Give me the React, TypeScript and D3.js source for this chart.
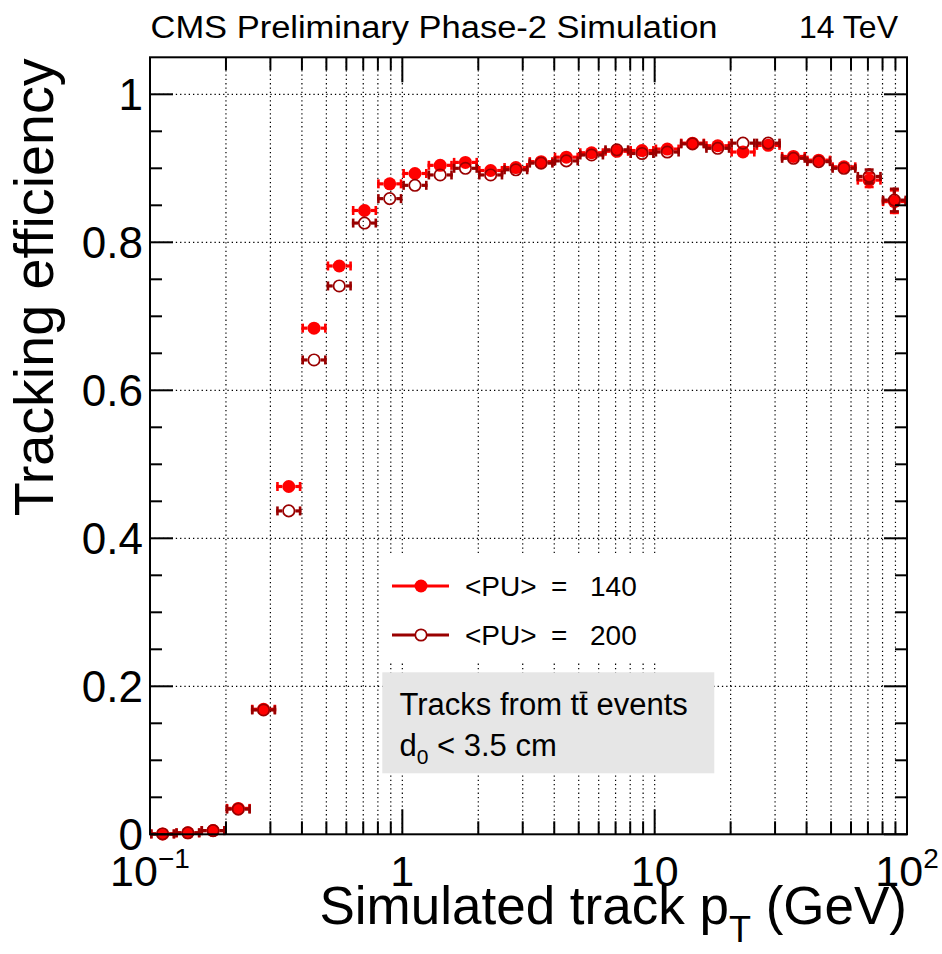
import React, { useLayoutEffect, useRef, useState } from 'react';
import * as d3 from 'd3';

// pT bin edges (GeV), 10 bins per decade
const binEdges = [
  0.1, 0.1259, 0.1585, 0.1995, 0.2512, 0.3162, 0.3981, 0.5012, 0.631, 0.7943,
  1.0, 1.259, 1.585, 1.995, 2.512, 3.162, 3.981, 5.012, 6.31, 7.943,
  10, 12.59, 15.85, 19.95, 25.12, 31.62, 39.81, 50.12, 63.1, 79.43, 100,
];

const effPU140 = [
  0.0005, 0.002, 0.005, 0.035, 0.169, 0.47, 0.684, 0.768, 0.843, 0.879,
  0.893, 0.904, 0.908, 0.897, 0.901, 0.909, 0.915, 0.921, 0.923, 0.924,
  0.926, 0.934, 0.9305, 0.922, 0.931, 0.916, 0.911, 0.902, 0.884, 0.855,
];
const errPU140 = [
  0.001, 0.001, 0.001, 0.002, 0.003, 0.003, 0.003, 0.003, 0.003, 0.003,
  0.003, 0.003, 0.003, 0.003, 0.003, 0.003, 0.003, 0.003, 0.003, 0.003,
  0.004, 0.004, 0.004, 0.005, 0.005, 0.006, 0.006, 0.007, 0.011, 0.017,
];

const effPU200 = [
  0.0005, 0.002, 0.005, 0.034, 0.168, 0.437, 0.641, 0.741, 0.826, 0.859,
  0.877, 0.891, 0.9, 0.891, 0.898, 0.907, 0.91, 0.918, 0.925, 0.92,
  0.922, 0.933, 0.927, 0.934, 0.934, 0.9135, 0.909, 0.9, 0.889, 0.857,
];
const errPU200 = [
  0.001, 0.001, 0.001, 0.002, 0.003, 0.003, 0.003, 0.003, 0.003, 0.003,
  0.003, 0.003, 0.003, 0.003, 0.003, 0.003, 0.003, 0.003, 0.003, 0.003,
  0.004, 0.004, 0.004, 0.005, 0.005, 0.006, 0.006, 0.007, 0.011, 0.017,
];

const xMajorTicks = [0.1, 1, 10, 100];
const xMinorTicks = [
  0.2, 0.3, 0.4, 0.5, 0.6, 0.7, 0.8, 0.9,
  2, 3, 4, 5, 6, 7, 8, 9,
  20, 30, 40, 50, 60, 70, 80, 90,
];
const yMajorTicks = [0, 0.2, 0.4, 0.6, 0.8, 1.0];
const yMajorLabels = ['0', '0.2', '0.4', '0.6', '0.8', '1'];
const yMinorTicks = [0.05, 0.1, 0.15, 0.25, 0.3, 0.35, 0.45, 0.5, 0.55, 0.65, 0.7, 0.75, 0.85, 0.9, 0.95];

const legendLabels = ['140', '200'];

const series = [
  { eff: effPU140, err: errPU140, color: '#ff0000', filled: true },
  { eff: effPU200, err: errPU200, color: '#990000', filled: false },
];

const W = 942;
const H = 954;
const L = 150, R = 907, T = 57.3, B = 834.3;
const FONT = '"Liberation Sans", Arial, Helvetica, sans-serif';

export default function App() {
  const x = d3.scaleLog().domain([0.1, 100]).range([L, R]);
  const y = d3.scaleLinear().domain([0, 1.05]).range([B, T]);
  const r = 6.5;
  const cap = 4.5;

  const ttRef = useRef<SVGTextElement | null>(null);
  const [bar, setBar] = useState<{ x: number; w: number } | null>(null);
  useLayoutEffect(() => {
    const el = ttRef.current;
    if (el) {
      try {
        const ext = el.getExtentOfChar(13);
        setBar({ x: ext.x, w: ext.width });
      } catch (e) {
        /* ignore */
      }
    }
  }, []);

  const renderSeries = (s: typeof series[number], si: number) => {
    const parts: React.ReactNode[] = [];
    s.eff.forEach((v, i) => {
      const lo = binEdges[i];
      const hi = binEdges[i + 1];
      const cx = x(Math.sqrt(lo * hi));
      const cy = y(v);
      const xl = x(lo);
      const xh = x(hi);
      const key = `${si}-${i}`;
      const yUp = y(v + s.err[i]);
      const yDn = y(v - s.err[i]);
      parts.push(
        <g key={key}>
          <line x1={xl} x2={cx - r} y1={cy} y2={cy} stroke={s.color} strokeWidth={3.2} />
          <line x1={cx + r} x2={xh} y1={cy} y2={cy} stroke={s.color} strokeWidth={3.2} />
          <line x1={xl + 1.3} x2={xl + 1.3} y1={cy - cap} y2={cy + cap} stroke={s.color} strokeWidth={2.6} />
          <line x1={xh - 1.3} x2={xh - 1.3} y1={cy - cap} y2={cy + cap} stroke={s.color} strokeWidth={2.6} />
          {yDn - cy > r && (
            <>
              <line x1={cx} x2={cx} y1={cy - r} y2={yUp} stroke={s.color} strokeWidth={3.2} />
              <line x1={cx} x2={cx} y1={cy + r} y2={yDn} stroke={s.color} strokeWidth={3.2} />
              <line x1={cx - cap} x2={cx + cap} y1={yUp + 1.3} y2={yUp + 1.3} stroke={s.color} strokeWidth={2.6} />
              <line x1={cx - cap} x2={cx + cap} y1={yDn - 1.3} y2={yDn - 1.3} stroke={s.color} strokeWidth={2.6} />
            </>
          )}
          {s.filled ? (
            <circle cx={cx} cy={cy} r={r} fill={s.color} />
          ) : (
            <circle cx={cx} cy={cy} r={r - 0.8} fill="none" stroke={s.color} strokeWidth={1.7} />
          )}
        </g>
      );
    });
    return parts;
  };

  const gridStyle = { stroke: '#000', strokeWidth: 1.2, strokeDasharray: '1.3 3' };

  return (
    <svg width={W} height={H} style={{ position: 'absolute', left: 0, top: 0, background: '#fff' }} fontFamily={FONT}>
      <rect x={0} y={0} width={W} height={H} fill="#fff" />
      {/* grid */}
      <g>
        {[...xMinorTicks, 1, 10].map((t, i) => (
          <line key={`gx${i}`} x1={x(t)} x2={x(t)} y1={T} y2={B} {...gridStyle} />
        ))}
        {yMajorTicks.filter((t) => t > 0).map((t, i) => (
          <line key={`gy${i}`} x1={L} x2={R} y1={y(t)} y2={y(t)} {...gridStyle} />
        ))}
      </g>

      {/* legend background */}
      <rect x={381} y={556} width={340} height={106} fill="#fff" />

      {/* text box */}
      <rect x={382.3} y={672.3} width={332} height={101} fill="#e6e6e6" />
      <text ref={ttRef} x={399.5} y={715} fontSize={31} fill="#000">
        {'Tracks from tt events'}
      </text>
      {bar && (
        <line x1={bar.x + 0.5} x2={bar.x + bar.w - 0.5} y1={692.5} y2={692.5} stroke="#000" strokeWidth={1.6} />
      )}
      <text x={399.5} y={756} fontSize={31} fill="#000">
        d<tspan fontSize={21} dy={8}>0</tspan>
        <tspan dy={-8}>{' < 3.5 cm'}</tspan>
      </text>

      {/* data */}
      <g>{series.map((s, si) => renderSeries(s, si))}</g>

      {/* legend */}
      {series.map((s, i) => {
        const ly = 586 + i * 49;
        return (
          <g key={`leg${i}`}>
            <line x1={392} x2={449} y1={ly} y2={ly} stroke={s.color} strokeWidth={3.2} />
            {s.filled ? (
              <circle cx={421} cy={ly} r={r} fill={s.color} />
            ) : (
              <circle cx={421} cy={ly} r={r - 0.8} fill="#fff" stroke={s.color} strokeWidth={1.7} />
            )}
            <text y={ly + 10} fontSize={28} fill="#000">
              <tspan x={465}>{'<PU>'}</tspan>
              <tspan x={551}>=</tspan>
              <tspan x={590}>{legendLabels[i]}</tspan>
            </text>
          </g>
        );
      })}

      {/* frame */}
      <rect x={L} y={T} width={R - L} height={B - T} fill="none" stroke="#000" strokeWidth={2} />

      {/* x ticks */}
      {xMajorTicks.map((t, i) => (
        <g key={`xM${i}`}>
          <line x1={x(t)} x2={x(t)} y1={B} y2={B - 25} stroke="#000" strokeWidth={2} />
          <line x1={x(t)} x2={x(t)} y1={T} y2={T + 25} stroke="#000" strokeWidth={2} />
        </g>
      ))}
      {xMinorTicks.map((t, i) => (
        <g key={`xm${i}`}>
          <line x1={x(t)} x2={x(t)} y1={B} y2={B - 13} stroke="#000" strokeWidth={2} />
          <line x1={x(t)} x2={x(t)} y1={T} y2={T + 13} stroke="#000" strokeWidth={2} />
        </g>
      ))}

      {/* y ticks */}
      {yMajorTicks.map((t, i) => (
        <g key={`yM${i}`}>
          <line x1={L} x2={L + 23} y1={y(t)} y2={y(t)} stroke="#000" strokeWidth={2} />
          <line x1={R} x2={R - 23} y1={y(t)} y2={y(t)} stroke="#000" strokeWidth={2} />
        </g>
      ))}
      {yMinorTicks.map((t, i) => (
        <g key={`ym${i}`}>
          <line x1={L} x2={L + 12} y1={y(t)} y2={y(t)} stroke="#000" strokeWidth={2} />
          <line x1={R} x2={R - 12} y1={y(t)} y2={y(t)} stroke="#000" strokeWidth={2} />
        </g>
      ))}

      {/* y tick labels */}
      {yMajorTicks.map((t, i) => (
        <text key={`yl${i}`} x={143} y={y(t) + 16} fontSize={44} textAnchor="end" fill="#000">
          {yMajorLabels[i]}
        </text>
      ))}

      {/* x tick labels */}
      <text x={x(0.1)} y={886} fontSize={43} textAnchor="middle" fill="#000">
        10<tspan fontSize={28} dy={-18}>{'\u22121'}</tspan>
      </text>
      <text x={x(1)} y={886} fontSize={43} textAnchor="middle" fill="#000">1</text>
      <text x={x(10)} y={886} fontSize={43} textAnchor="middle" fill="#000">10</text>
      <text x={x(100)} y={886} fontSize={43} textAnchor="middle" fill="#000">
        10<tspan fontSize={28} dy={-18}>2</tspan>
      </text>

      {/* axis titles */}
      <text x={R} y={924} fontSize={53} textAnchor="end" fill="#000">
        {'Simulated track p'}
        <tspan fontSize={36} dy={18}>T</tspan>
        <tspan dy={-18}>{' (GeV)'}</tspan>
      </text>
      <text transform={`translate(53, ${T + 1}) rotate(-90)`} fontSize={55} textAnchor="end" fill="#000"
        textLength={458} lengthAdjust="spacingAndGlyphs">
        Tracking efficiency
      </text>

      {/* header */}
      <text x={150.5} y={38} fontSize={31} fill="#000" textLength={567} lengthAdjust="spacingAndGlyphs">
        CMS Preliminary Phase-2 Simulation
      </text>
      <text x={898} y={38} fontSize={32} textAnchor="end" fill="#000">14 TeV</text>
    </svg>
  );
}
